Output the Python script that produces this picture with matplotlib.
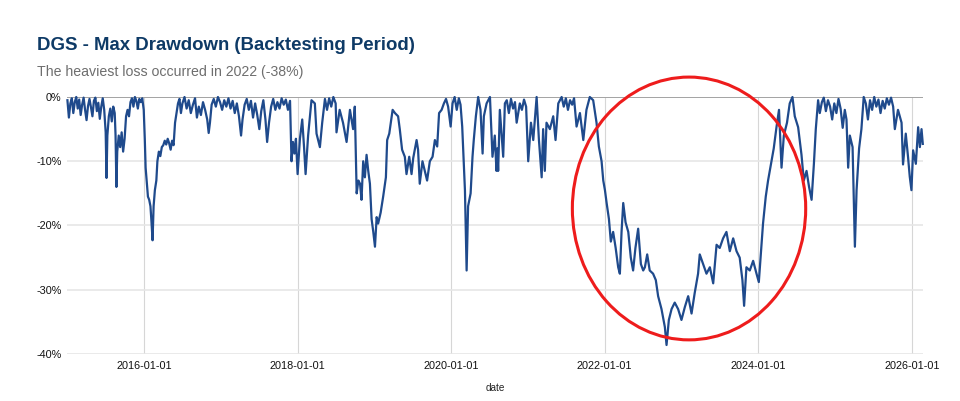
import pandas as pd
import matplotlib.pyplot as plt
import matplotlib.dates as mdates
from matplotlib.patches import Ellipse
from matplotlib.ticker import FuncFormatter

plt.rcParams['font.family'] = ['Liberation Sans', 'DejaVu Sans']

# %% data (date, drawdown in %)
title = "DGS - Max Drawdown (Backtesting Period)"
subtitle = "The heaviest loss occurred in 2022 (-38%)"
x_label = "date"
x_ticks = ["2016-01-01", "2018-01-01", "2020-01-01", "2022-01-01", "2024-01-01", "2026-01-01"]
y_ticks = [0, -10, -20, -30, -40]

dd_2015 = [
    ("2015-01-02", -0.5), ("2015-01-09", -3.2), ("2015-01-16", -1.0), ("2015-01-23", -0.2),
    ("2015-01-30", -2.5), ("2015-02-06", -0.8), ("2015-02-13", 0.0), ("2015-02-20", -1.8),
    ("2015-02-27", -0.4), ("2015-03-06", -2.8), ("2015-03-13", -1.2), ("2015-03-20", -0.1),
    ("2015-03-27", -2.0), ("2015-04-03", -3.6), ("2015-04-10", -1.4), ("2015-04-17", -0.3),
    ("2015-04-24", -1.6), ("2015-05-01", -3.0), ("2015-05-08", -0.6), ("2015-05-15", -0.1),
    ("2015-05-22", -2.2), ("2015-05-29", -0.9), ("2015-06-05", -3.4), ("2015-06-12", -1.5),
    ("2015-06-19", -0.2), ("2015-06-26", -2.0), ("2015-07-03", -5.5), ("2015-07-07", -12.6),
    ("2015-07-11", -6.0), ("2015-07-18", -3.0), ("2015-07-25", -1.8), ("2015-08-01", -3.8),
    ("2015-08-08", -1.5), ("2015-08-15", -2.5), ("2015-08-19", -6.0), ("2015-08-23", -14.0),
    ("2015-08-27", -8.5), ("2015-09-03", -6.0), ("2015-09-10", -7.8), ("2015-09-17", -5.5),
    ("2015-09-24", -8.5), ("2015-10-01", -6.5), ("2015-10-08", -3.0), ("2015-10-15", -2.0),
    ("2015-10-22", -3.0), ("2015-10-29", -0.8), ("2015-11-05", -0.2), ("2015-11-12", -1.5),
    ("2015-11-19", 0.0), ("2015-11-26", -0.6), ("2015-12-03", -1.8), ("2015-12-10", -0.3),
    ("2015-12-17", -0.8), ("2015-12-24", -0.2), ("2015-12-31", -2.0),
]

dd_2016_2017 = [
    ("2016-01-05", -6.5), ("2016-01-09", -11.0), ("2016-01-15", -13.5), ("2016-01-20", -15.5),
    ("2016-01-26", -16.0), ("2016-02-01", -17.0), ("2016-02-06", -19.5), ("2016-02-11", -22.3),
    ("2016-02-16", -17.0), ("2016-02-22", -14.5), ("2016-02-29", -13.0), ("2016-03-05", -10.0),
    ("2016-03-12", -8.5), ("2016-03-19", -9.2), ("2016-03-26", -7.8), ("2016-04-02", -7.5),
    ("2016-04-09", -6.8), ("2016-04-16", -7.4), ("2016-04-23", -6.5), ("2016-04-30", -7.2),
    ("2016-05-07", -8.2), ("2016-05-14", -6.8), ("2016-05-21", -7.5), ("2016-05-28", -4.0),
    ("2016-06-04", -2.5), ("2016-06-11", -1.0), ("2016-06-18", -0.3), ("2016-06-25", -2.5),
    ("2016-07-02", -1.0), ("2016-07-12", 0.0), ("2016-07-22", -1.8), ("2016-08-01", -0.5),
    ("2016-08-11", -2.5), ("2016-08-21", -1.2), ("2016-08-31", -0.2), ("2016-09-09", -3.2),
    ("2016-09-18", -1.5), ("2016-09-28", -2.8), ("2016-10-08", -0.8), ("2016-10-18", -2.0),
    ("2016-10-28", -3.5), ("2016-11-04", -5.6), ("2016-11-10", -4.0), ("2016-11-18", -1.2),
    ("2016-11-28", -0.3), ("2016-12-08", -1.5), ("2016-12-18", 0.0), ("2016-12-28", -0.8),
    ("2017-01-07", -2.0), ("2017-01-17", -0.5), ("2017-01-27", -1.5), ("2017-02-06", -0.2),
    ("2017-02-16", -1.8), ("2017-02-26", -0.6), ("2017-03-08", -2.5), ("2017-03-18", -1.0),
    ("2017-03-28", -3.0), ("2017-04-07", -6.0), ("2017-04-14", -3.5), ("2017-04-24", -1.2),
    ("2017-05-04", -0.3), ("2017-05-14", -2.0), ("2017-05-24", -0.6), ("2017-06-03", -3.2),
    ("2017-06-13", -1.0), ("2017-06-23", -2.8), ("2017-07-03", -5.0), ("2017-07-12", -2.2),
    ("2017-07-22", -0.5), ("2017-08-01", -3.5), ("2017-08-09", -7.0), ("2017-08-18", -4.0),
    ("2017-08-28", -1.5), ("2017-09-07", -0.3), ("2017-09-17", -2.0), ("2017-09-27", -0.8),
    ("2017-10-07", -1.8), ("2017-10-17", -0.2), ("2017-10-27", -1.2), ("2017-11-06", -0.4),
    ("2017-11-16", -2.0), ("2017-11-26", -0.6), ("2017-12-03", -10.0), ("2017-12-10", -7.0),
    ("2017-12-17", -8.8), ("2017-12-24", -6.5),
]

dd_2018_2019 = [
    ("2018-01-01", -12.0), ("2018-01-12", -6.5), ("2018-01-23", -3.5), ("2018-02-01", -8.0),
    ("2018-02-08", -12.0), ("2018-02-20", -6.0), ("2018-03-08", -0.5), ("2018-03-24", -1.0),
    ("2018-04-01", -5.7), ("2018-04-17", -7.8), ("2018-04-28", -4.0), ("2018-05-11", -0.3),
    ("2018-05-21", -2.0), ("2018-05-31", -0.2), ("2018-06-10", -1.5), ("2018-06-20", 0.0),
    ("2018-07-01", -1.0), ("2018-07-05", -5.5), ("2018-07-20", -2.0), ("2018-08-05", -4.0),
    ("2018-08-22", -7.0), ("2018-09-07", -2.0), ("2018-09-22", -5.0), ("2018-09-30", -1.5),
    ("2018-10-09", -15.0), ("2018-10-17", -13.0), ("2018-10-25", -13.5), ("2018-11-01", -16.0),
    ("2018-11-09", -10.0), ("2018-11-17", -12.5), ("2018-11-25", -9.0), ("2018-12-03", -11.5),
    ("2018-12-11", -13.5), ("2018-12-19", -19.0), ("2018-12-27", -21.0), ("2019-01-04", -23.3),
    ("2019-01-12", -18.7), ("2019-01-19", -19.7), ("2019-01-31", -18.0), ("2019-02-12", -15.5),
    ("2019-02-25", -12.5), ("2019-03-03", -6.7), ("2019-03-13", -5.7), ("2019-03-29", -2.0),
    ("2019-04-09", -2.5), ("2019-04-24", -3.0), ("2019-05-02", -5.0), ("2019-05-13", -8.2),
    ("2019-05-26", -9.3), ("2019-06-03", -12.0), ("2019-06-16", -9.3), ("2019-06-27", -12.0),
    ("2019-07-05", -9.5), ("2019-07-21", -6.7), ("2019-07-28", -8.2), ("2019-08-05", -13.5),
    ("2019-08-18", -10.0), ("2019-08-29", -11.5), ("2019-09-09", -13.0), ("2019-09-22", -10.0),
    ("2019-10-05", -9.3), ("2019-10-16", -6.7), ("2019-10-27", -7.7), ("2019-11-05", -2.5),
    ("2019-11-17", -2.0), ("2019-11-28", -1.0), ("2019-12-08", -0.3), ("2019-12-18", -1.5),
    ("2019-12-30", -4.6),
]

dd_2020_2021 = [
    ("2020-01-08", -1.0), ("2020-01-18", 0.0), ("2020-01-28", -2.0), ("2020-02-07", -0.2),
    ("2020-02-15", -1.2), ("2020-02-23", -4.6), ("2020-03-07", -14.5), ("2020-03-15", -27.0),
    ("2020-03-22", -17.0), ("2020-04-03", -15.0), ("2020-04-12", -9.3), ("2020-04-18", -6.7),
    ("2020-04-28", -3.0), ("2020-05-09", 0.0), ("2020-05-20", -2.0), ("2020-05-30", -8.8),
    ("2020-06-05", -3.0), ("2020-06-18", -1.0), ("2020-07-04", 0.0), ("2020-07-16", -9.3),
    ("2020-07-27", -6.0), ("2020-08-04", -11.5), ("2020-08-08", -8.0), ("2020-08-12", -11.5),
    ("2020-08-20", -2.0), ("2020-09-05", -9.3), ("2020-09-13", -1.0), ("2020-09-22", -0.5),
    ("2020-10-02", -2.5), ("2020-10-12", -0.3), ("2020-10-22", -1.8), ("2020-10-31", -0.8),
    ("2020-11-08", -4.0), ("2020-11-23", -1.0), ("2020-12-03", -2.0), ("2020-12-13", -0.4),
    ("2020-12-23", -1.5), ("2021-01-02", -10.0), ("2021-01-15", -4.0), ("2021-01-26", -6.7),
    ("2021-02-11", 0.0), ("2021-02-22", -6.7), ("2021-03-07", -12.5), ("2021-03-14", -5.0),
    ("2021-03-22", -11.5), ("2021-03-30", -4.0), ("2021-04-15", -5.0), ("2021-05-01", -3.0),
    ("2021-05-12", -6.7), ("2021-05-25", -1.0), ("2021-06-10", 0.0), ("2021-06-20", -1.5),
    ("2021-06-30", -0.2), ("2021-07-10", -2.0), ("2021-07-20", -0.5), ("2021-07-30", -1.2),
    ("2021-08-08", -0.2), ("2021-08-20", -4.6), ("2021-09-05", -2.5), ("2021-09-21", -6.7),
    ("2021-10-06", -2.0), ("2021-10-22", 0.0), ("2021-11-07", -0.5), ("2021-11-23", -4.0),
    ("2021-12-04", -7.7), ("2021-12-17", -10.0), ("2021-12-25", -13.0),
]

dd_2022_2023 = [
    ("2022-01-02", -14.5), ("2022-01-10", -16.5), ("2022-01-21", -19.0), ("2022-01-30", -22.5),
    ("2022-02-10", -21.0), ("2022-02-22", -23.5), ("2022-03-06", -26.5), ("2022-03-14", -27.5),
    ("2022-03-22", -21.0), ("2022-03-30", -16.5), ("2022-04-10", -19.5), ("2022-04-23", -21.0),
    ("2022-05-05", -25.0), ("2022-05-16", -27.0), ("2022-05-27", -23.5), ("2022-06-09", -20.5),
    ("2022-06-22", -26.0), ("2022-07-03", -27.0), ("2022-07-11", -26.5), ("2022-07-22", -24.5),
    ("2022-08-03", -27.0), ("2022-08-19", -27.5), ("2022-09-01", -28.5), ("2022-09-12", -31.0),
    ("2022-09-28", -33.0), ("2022-10-14", -35.8), ("2022-10-22", -38.6), ("2022-11-02", -34.7),
    ("2022-11-15", -33.0), ("2022-11-30", -32.0), ("2022-12-16", -33.0), ("2023-01-01", -34.7),
    ("2023-01-17", -32.7), ("2023-02-02", -31.0), ("2023-02-18", -33.7), ("2023-03-05", -30.5),
    ("2023-03-21", -27.5), ("2023-03-29", -24.5), ("2023-04-14", -26.0), ("2023-04-30", -27.5),
    ("2023-05-16", -26.5), ("2023-06-01", -29.0), ("2023-06-17", -23.0), ("2023-07-02", -23.5),
    ("2023-07-18", -22.0), ("2023-08-03", -21.0), ("2023-08-19", -24.0), ("2023-09-04", -22.0),
    ("2023-09-20", -24.0), ("2023-10-05", -25.0), ("2023-10-18", -28.5), ("2023-10-26", -32.5),
    ("2023-11-06", -26.5), ("2023-11-22", -27.0), ("2023-12-08", -25.5), ("2023-12-24", -27.5),
]

dd_2024_2026 = [
    ("2024-01-04", -28.8), ("2024-01-17", -23.0), ("2024-01-24", -19.7), ("2024-02-06", -15.5),
    ("2024-02-17", -13.0), ("2024-03-04", -10.0), ("2024-03-15", -8.0), ("2024-03-28", -4.7),
    ("2024-04-09", -2.0), ("2024-04-21", -11.0), ("2024-05-02", -6.0), ("2024-05-17", -4.0),
    ("2024-05-30", -1.0), ("2024-06-12", 0.0), ("2024-06-23", -3.0), ("2024-07-09", -4.7),
    ("2024-07-25", -9.0), ("2024-08-05", -13.0), ("2024-08-18", -11.5), ("2024-08-30", -14.0),
    ("2024-09-11", -16.0), ("2024-09-22", -10.4), ("2024-10-01", -5.0), ("2024-10-12", -0.5),
    ("2024-10-20", -2.5), ("2024-10-30", -0.8), ("2024-11-08", -0.1), ("2024-11-18", -2.2),
    ("2024-11-28", -0.5), ("2024-12-08", -1.5), ("2024-12-18", -3.5), ("2024-12-28", -1.0),
    ("2025-01-07", -2.5), ("2025-01-17", -0.3), ("2025-01-27", -1.8), ("2025-02-06", -4.8),
    ("2025-02-16", -2.0), ("2025-02-24", -3.5), ("2025-03-04", -11.0), ("2025-03-12", -6.0),
    ("2025-03-25", -7.8), ("2025-04-05", -23.3), ("2025-04-13", -14.5), ("2025-04-25", -8.0),
    ("2025-05-06", -5.0), ("2025-05-17", 0.0), ("2025-05-27", -1.0), ("2025-06-06", -3.5),
    ("2025-06-16", -0.5), ("2025-06-26", -2.0), ("2025-07-06", 0.0), ("2025-07-16", -1.5),
    ("2025-07-26", -0.4), ("2025-08-05", -2.5), ("2025-08-15", -0.6), ("2025-08-25", -1.8),
    ("2025-09-04", -0.2), ("2025-09-14", -1.2), ("2025-09-24", -0.1), ("2025-10-04", -1.5),
    ("2025-10-12", -5.0), ("2025-10-27", -2.0), ("2025-11-13", -4.0), ("2025-11-20", -10.5),
    ("2025-12-03", -5.7), ("2025-12-14", -9.4), ("2025-12-22", -12.4), ("2025-12-30", -14.5),
    ("2026-01-07", -8.3), ("2026-01-20", -10.4), ("2026-01-31", -4.7), ("2026-02-08", -7.8),
    ("2026-02-16", -5.0), ("2026-02-22", -7.3),
]

# highlighted worst period (ellipse centre / size in date, %)
highlight_center = ("2023-02-06", -17.35)
highlight_days = 1110
highlight_pct = 40.9

# %% assemble
points = dd_2015 + dd_2016_2017 + dd_2018_2019 + dd_2020_2021 + dd_2022_2023 + dd_2024_2026
dates = pd.to_datetime([p[0] for p in points])
drawdown = [p[1] for p in points]

# %% plot
fig = plt.figure(figsize=(9.6, 4.01), dpi=100)
ax = fig.add_axes([67/960, 1-354/401, (923-67)/960, (354-97)/401])

ax.plot(dates, drawdown, color='#1f4a8c', lw=1.6, clip_on=False, zorder=3)
ax.axhline(0, color='#9e9e9e', lw=1.3, zorder=2)

ax.set_ylim(-40, 0)
ax.set_xlim(pd.Timestamp("2014-12-31"), pd.Timestamp("2026-02-23"))
ax.set_yticks(y_ticks)
ax.yaxis.set_major_formatter(FuncFormatter(lambda v, p: f"{v:.0f}%"))
ax.set_xticks(pd.to_datetime(x_ticks))
ax.xaxis.set_major_formatter(mdates.DateFormatter('%Y-%m-%d'))
ax.tick_params(length=0, labelsize=7.8, colors='#111111')
ax.tick_params(axis='y', pad=4)
ax.tick_params(axis='x', pad=5)

ax.grid(axis='y', color='#e6e6e6', lw=1.2)
ax.grid(axis='x', color='#d6d6d6', lw=0.8)
ax.set_axisbelow(True)
for s in ax.spines.values():
    s.set_visible(False)

ell = Ellipse((mdates.date2num(pd.Timestamp(highlight_center[0])), highlight_center[1]),
              width=highlight_days, height=highlight_pct,
              fill=False, ec='#ee1c1c', lw=2.2, clip_on=False, zorder=4)
ax.add_patch(ell)

fig.text(495/960, 1-388/401, x_label, ha='center', va='center', fontsize=7.2, color='#222222')
fig.text(37/960, 1-46/401, title, fontsize=13.4, fontweight='bold', color='#0e3a66', va='center')
fig.text(37/960, 1-72/401, subtitle, fontsize=10.2, color='#6e6e6e', va='center')

fig.savefig('out.png', dpi=100)
